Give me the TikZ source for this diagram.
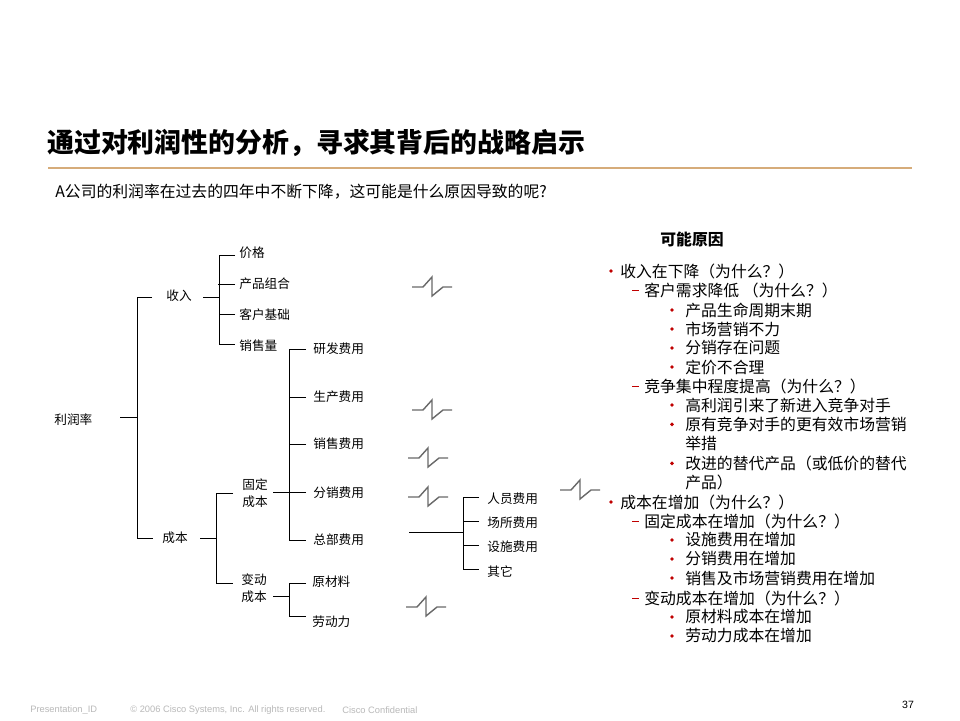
\documentclass[tikz,border=0pt]{standalone}
\usepackage{fontspec}
\setmainfont{Noto Sans CJK SC}
\newfontfamily\footfont{Liberation Sans}
\usetikzlibrary{positioning}
\definecolor{rulegold}{RGB}{214,172,122}
\definecolor{dotred}{RGB}{192,0,0}
\definecolor{brkgray}{RGB}{105,105,105}
\definecolor{footgray}{RGB}{185,185,185}
\tikzset{
  tree/.style={draw=black, line width=0.55pt},
  lbl/.style={anchor=west, inner sep=0pt, font=\fontsize{7.2}{9.6}\selectfont},
  brkline/.style={draw=brkgray, line width=0.8pt},
  item/.style={anchor=west, inner sep=0pt, align=left, font=\fontsize{9}{10.9}\selectfont},
  foot/.style={anchor=west, inner sep=0pt, text=footgray, font=\footfont\fontsize{5.3}{6}\selectfont}
}
\begin{document}
\begin{tikzpicture}[x=0.02cm, y=-0.02cm]
    % 页面
    \fill[white] (0,0) rectangle (960,720);
    \useasboundingbox (0,0) rectangle (960,720);

    % 标题
    \node[anchor=west, inner sep=0pt, font=\bfseries\fontsize{15.3}{18}\selectfont] (title) at (47,143) {通过对利润性的分析，寻求其背后的战略启示};
    \draw[rulegold, line width=0.6pt] (48,168) -- (912,168);
    \node[anchor=west, inner sep=0pt, font=\fontsize{9}{11}\selectfont] (question) at (55,192) {A公司的利润率在过去的四年中不断下降，这可能是什么原因导致的呢?};

    % 树的各项
    \node[lbl] (rate) at (54,420) {利润率};
    \node[lbl] (rev) at (166,296) {收入};
    \node[lbl] (cost) at (162,538) {成本};
    \node[lbl] (price) at (239,253) {价格};
    \node[lbl] (mix) at (239,284) {产品组合};
    \node[lbl] (base) at (239,315) {客户基础};
    \node[lbl] (vol) at (239,346) {销售量};
    \node[lbl, align=center] (fixed) at (242,493) {固定\\成本};
    \node[lbl, align=center] (var) at (241,588) {变动\\成本};
    \node[lbl] (rd) at (313,349) {研发费用};
    \node[lbl] (prod) at (313,397) {生产费用};
    \node[lbl] (sell) at (313,444) {销售费用};
    \node[lbl] (dist) at (313,493) {分销费用};
    \node[lbl] (hq) at (313,540) {总部费用};
    \node[lbl] (mat) at (312,582) {原材料};
    \node[lbl] (lab) at (312,622) {劳动力};
    \node[lbl] (staff) at (487,499) {人员费用};
    \node[lbl] (site) at (487,523) {场所费用};
    \node[lbl] (fac) at (487,547) {设施费用};
    \node[lbl] (other) at (487,572) {其它};

    % 连线端点
    \coordinate (rate-o) at (120,417);
    \coordinate (rev-i) at (152,297);
    \coordinate (cost-i) at (153,538);
    \coordinate (rev-o) at (203,297);
    \coordinate (price-i) at (235,255);
    \coordinate (mix-i) at (235,284);
    \coordinate (base-i) at (235,314);
    \coordinate (vol-i) at (235,344);
    \coordinate (cost-o) at (200,538);
    \coordinate (fixed-i) at (233,493);
    \coordinate (var-i) at (233,583);
    \coordinate (fixed-o) at (273,492);
    \coordinate (rd-i) at (306,349);
    \coordinate (prod-i) at (306,397);
    \coordinate (sell-i) at (306,444);
    \coordinate (dist-i) at (306,492);
    \coordinate (hq-i) at (306,540);
    \coordinate (var-o) at (273,596);
    \coordinate (mat-i) at (306,583);
    \coordinate (lab-i) at (306,616);
    \coordinate (hq-o) at (409,532);
    \coordinate (staff-i) at (479,497);
    \coordinate (site-i) at (479,521);
    \coordinate (fac-i) at (479,545);
    \coordinate (other-i) at (479,569);

    % 连线
    \draw[tree] (rate-o) -- ++(17,0);
    \draw[tree] (rev-i) -- ++(-15,0) |- (cost-i);
    \draw[tree] (rev-o) -- ++(16,0);
    \draw[tree] (price-i) -- ++(-16,0) |- (vol-i);
    \draw[tree] (mix-i) -- ++(-17,0);
    \draw[tree] (base-i) -- ++(-16,0);
    \draw[tree] (cost-o) -- ++(16,0);
    \draw[tree] (fixed-i) -- ++(-17,0) |- (var-i);
    \draw[tree] (fixed-o) -- ++(16,0);
    \draw[tree] (rd-i) -- ++(-17,0) |- (hq-i);
    \foreach \c in {prod-i, sell-i, dist-i}
      \draw[tree] (\c) -- ++(-17,0);
    \draw[tree] (var-o) -- ++(16,0);
    \draw[tree] (mat-i) -- ++(-17,0) |- (lab-i);
    \draw[tree] (hq-o) -- ++(54,0);
    \draw[tree] (staff-i) -- ++(-16,0) |- (other-i);
    \foreach \c in {site-i, fac-i}
      \draw[tree] (\c) -- ++(-16,0);

    % 断开符号
    \foreach \x/\y in {412/287, 412/410, 408/458, 408/497, 406/607, 560/490}
      \draw[brkline] (\x,\y) -- ++(11,0) -- ++(9,-10) -- ++(0,19) -- ++(11,-9) -- ++(9,0);

    % 可能原因
    \node[font=\bfseries\fontsize{9}{11}\selectfont] (head) at (692,239) {可能原因};
    \node[item] (a) at (620,271) {收入在下降（为什么？）};
    \node[item] (a1) at (644,290) {客户需求降低 （为什么？）};
    \node[item] (a11) at (685,310) {产品生命周期末期};
    \node[item] (a12) at (685,329) {市场营销不力};
    \node[item] (a13) at (685,348) {分销存在问题};
    \node[item] (a14) at (685,367) {定价不合理};
    \node[item] (a2) at (644,386) {竞争集中程度提高（为什么？）};
    \node[item] (a21) at (685,405) {高利润引来了新进入竞争对手};
    \node[item] (a22) at (685,434) {原有竞争对手的更有效市场营销\\举措};
    \node[item] (a23) at (685,473) {改进的替代产品（或低价的替代\\产品）};
    \node[item] (b) at (620,502) {成本在增加（为什么？）};
    \node[item] (b1) at (644,521) {固定成本在增加（为什么？）};
    \node[item] (b11) at (685,540) {设施费用在增加};
    \node[item] (b12) at (685,559) {分销费用在增加};
    \node[item] (b13) at (685,578) {销售及市场营销费用在增加};
    \node[item] (b2) at (644,598) {变动成本在增加（为什么？）};
    \node[item] (b21) at (685,617) {原材料成本在增加};
    \node[item] (b22) at (685,636) {劳动力成本在增加};

    % 项目符号
    \foreach \n in {a, b}
      \fill[dotred] (\n.west) ++(-9,0) circle (1.1pt);
    \foreach \n in {a1, a2, b1, b2}
      \draw[dotred, line width=0.5pt] (\n.west) ++(-12,0) -- ++(7,0);
    \foreach \n in {a11, a12, a13, a14, a21, b11, b12, b13, b21, b22}
      \fill[dotred] (\n.west) ++(-13,0) circle (1.1pt);
    \foreach \n in {a22, a23}
      \fill[dotred] (\n.west) ++(-13,-9.6) circle (1.1pt);

    % 页脚
    \node[foot] (pid) at (30,710) {Presentation\_ID};
    \node[foot] (copy) at (130,710) {© 2006 Cisco Systems, Inc. All rights reserved.};
    \node[foot] (conf) at (342,710) {Cisco Confidential};
    \node[inner sep=0pt, font=\footfont\fontsize{6}{7}\selectfont] (page) at (908,705) {37};
\end{tikzpicture}
\end{document}
